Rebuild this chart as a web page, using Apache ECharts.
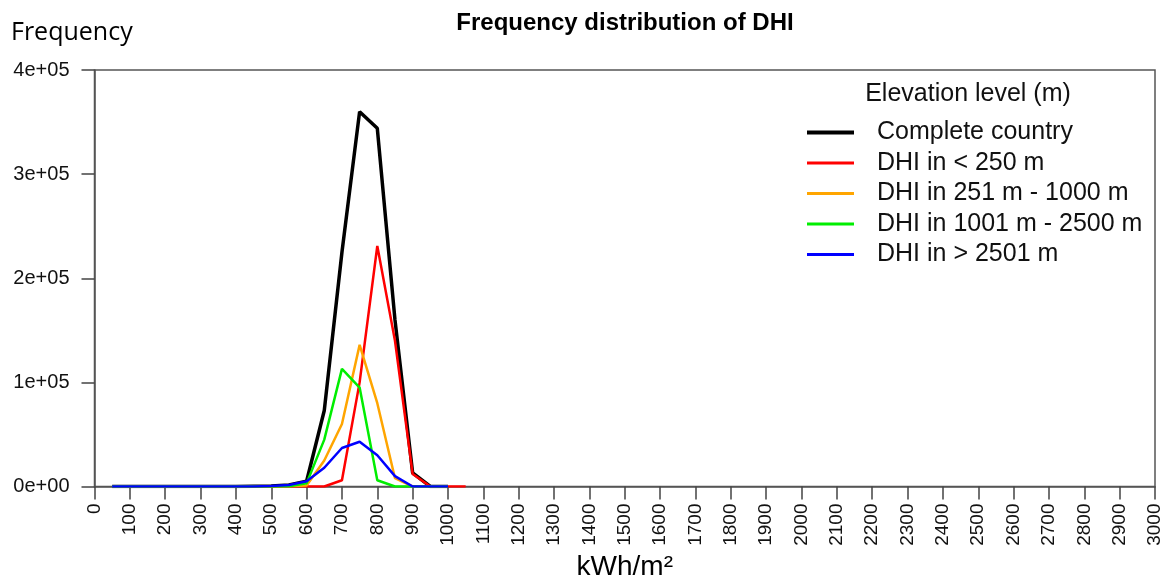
<!DOCTYPE html>
<html>
<head>
<meta charset="utf-8">
<script src="https://cdn.jsdelivr.net/npm/echarts@6/dist/echarts.min.js"></script>
<style>
html,body{margin:0;padding:0;background:#fff;}
#c{width:1168px;height:585px;}
</style>
</head>
<body>
<div id="c"></div>
<script>
// bin centres (kWh/m²)
const bins = [50,100,150,200,250,300,350,400,450,500,550,600,650,700,750,800,850,900,950,1000,1050];
// frequencies per series
const complete  = [0,0,0,0,0,0,0,0,300,600,1500,5000,73000,225000,360000,344000,160000,13000,0,0];
const below250  = [0,0,0,0,0,0,0,0,0,0,0,0,0,6000,100000,231000,140000,12000,0,0,0];
const m251_1000 = [0,0,0,0,0,0,0,0,0,0,200,1000,25000,60000,136000,80000,8000,0,0,0];
const m1001_2500= [0,0,0,0,0,0,0,0,0,0,300,3000,45000,113000,95000,6000,0,0,0,0];
const above2501 = [0,0,0,0,0,0,0,0,0,500,1500,5000,18000,37000,43000,30000,10000,0,0,0];

const seriesNames = ['Complete country','DHI in < 250 m','DHI in 251 m - 1000 m','DHI in 1001 m - 2500 m','DHI in > 2501 m'];
const seriesData = [complete, below250, m251_1000, m1001_2500, above2501];
const colors = ['#000000','#ff0000','#ffa500','#00ee00','#0000ff'];
const widths = [3.5,2.5,2.5,2.5,2.5];
const legendWidths = [4,3,3,3,3];

const chart = echarts.init(document.getElementById('c'));
const FONT = '"Liberation Sans", Arial, Helvetica, sans-serif';

chart.setOption({
  animation: false,
  backgroundColor: '#fff',
  title: {
    text: 'Frequency distribution of DHI',
    left: 620, top: 6, textAlign: 'center',
    textStyle: {fontFamily: FONT, fontSize: 24, fontWeight: 'bold', color: '#000'}
  },
  graphic: [
    {type:'text', x: 11, y: 20, style:{text:'Frequency', font:'25px "Open Sans", sans-serif', fill:'#000'}},
    {type:'text', x: 968, y: 82, style:{text:'Elevation level (m)', font:'25px ' + FONT, fill:'#111', textAlign:'center'}}
  ],
  legend: {
    orient: 'vertical',
    left: 805, top: 120, padding: 0,
    itemWidth: 47, itemHeight: 20, itemGap: 5.5,
    itemStyle: {opacity: 0},
    textStyle: {fontFamily: FONT, fontSize: 25, color: '#111', padding: [0,0,0,18]},
    data: seriesNames.map((n, i) => ({name: n, lineStyle: {width: legendWidths[i], color: colors[i]}}))
  },
  grid: {
    left: 94.5, top: 70, right: 13, bottom: 98.5,
    show: true, borderColor: '#555', borderWidth: 1.5, containLabel: false,
    outerBoundsMode: 'none'
  },
  xAxis: {
    type: 'value', min: 0, max: 3000, interval: 100,
    name: 'kWh/m²', nameLocation: 'middle', nameGap: 67,
    nameTextStyle: {fontFamily: FONT, fontSize: 28, color: '#000'},
    axisLine: {show: true, lineStyle: {color: '#555', width: 1.5}},
    axisTick: {show: true, inside: false, length: 13, lineStyle: {color: '#444', width: 1.5}},
    axisLabel: {rotate: 90, margin: 17, fontFamily: FONT, fontSize: 19, color: '#111',
      formatter: v => String(v)},
    splitLine: {show: false}
  },
  yAxis: {
    type: 'value', min: 0, max: 400000, interval: 100000,
    axisLine: {show: true, lineStyle: {color: '#555', width: 1.5}},
    axisTick: {show: true, inside: false, length: 13, lineStyle: {color: '#444', width: 1.5}},
    axisLabel: {margin: 25, fontFamily: FONT, fontSize: 20, color: '#111',
      formatter: v => v === 0 ? '0e+00' : (v/100000) + 'e+05'},
    splitLine: {show: false}
  },
  series: seriesNames.map((name, i) => ({
    name: name,
    type: 'line',
    symbol: 'none',
    data: seriesData[i].map((v, j) => [bins[j], v]),
    lineStyle: {color: colors[i], width: widths[i]},
    itemStyle: {color: colors[i]},
    z: 2 + i
  }))
});
</script>
</body>
</html>
